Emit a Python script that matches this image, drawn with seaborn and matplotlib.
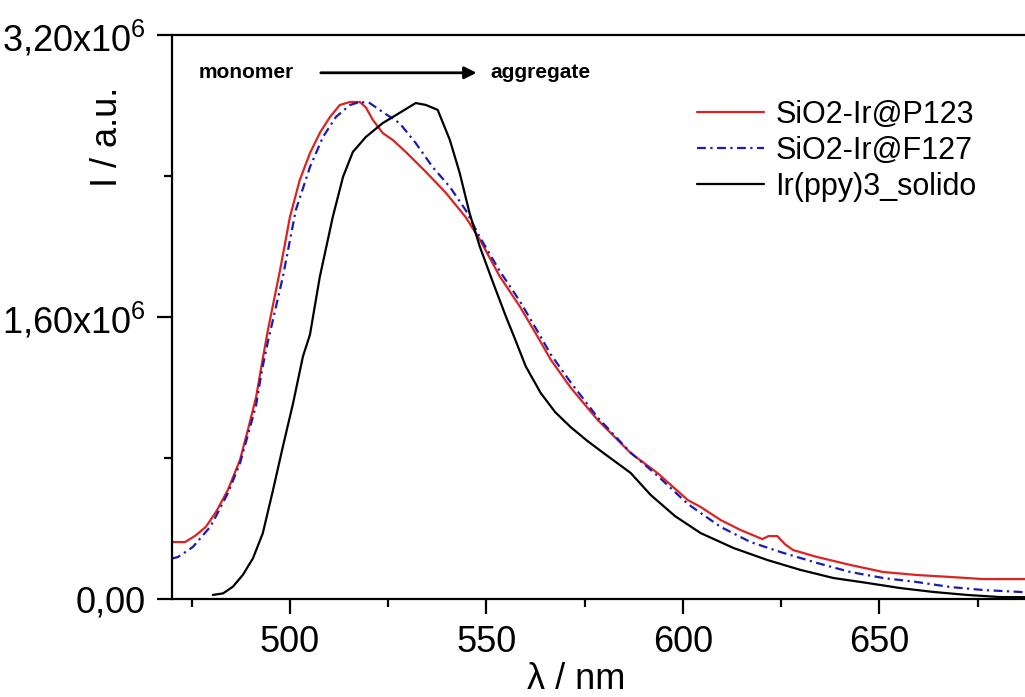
import matplotlib
matplotlib.use('Agg')
from matplotlib import pyplot as plt
from matplotlib.lines import Line2D
from matplotlib.ticker import FixedLocator, FuncFormatter
import seaborn as sns

# emission spectra, wavelength in nm, intensity in units of 1e6 a.u.
WL_P123 = [470, 473.3, 476, 478.6, 481.2, 484.2, 487.3, 489.3, 491.4, 492.9, 494.4, 497.5,
           500, 502.5, 505.1, 507.6, 510.2, 512.7, 515.3, 517.8, 519.3, 521.1, 523.6, 526.2,
           529.5, 534.6, 539.7, 544.7, 548.3, 553.4, 558.5, 563.5, 566.3, 571.4, 578.3, 586.7,
           593.5, 601.2, 604.5, 609.6, 614.6, 620.2, 621.8, 624, 626, 628, 634.2, 642.6, 651,
           659.6, 668, 676.4, 690]
I_P123 = [0.323, 0.323, 0.36, 0.409, 0.494, 0.618, 0.789, 0.959, 1.146, 1.339, 1.526, 1.867,
          2.167, 2.377, 2.53, 2.644, 2.735, 2.803, 2.82, 2.82, 2.79, 2.718, 2.644, 2.604,
          2.536, 2.423, 2.304, 2.167, 2.04, 1.83, 1.66, 1.47, 1.36, 1.20, 1.016, 0.828,
          0.715, 0.562, 0.522, 0.448, 0.392, 0.34, 0.357, 0.357, 0.31, 0.278, 0.238, 0.193, 0.153,
          0.136, 0.125, 0.113, 0.113]

WL_F127 = [470, 471.5, 475.3, 479.7, 481.2, 484.2, 487.3, 489.3, 491.4, 492.9, 494.4, 498.2,
           501.5, 505.1, 508.4, 511.7, 515.3, 517.8, 520.3, 523.6, 527.9, 532, 536.3, 540.7,
           544.7, 548.3, 553.4, 558.5, 563.5, 566.3, 571.4, 578.3, 586.7, 593.5, 601.2, 604.5,
           609.6, 617.2, 625.6, 634.2, 642.6, 651, 659.6, 668, 676.4, 690]
I_F127 = [0.23, 0.238, 0.295, 0.409, 0.47, 0.60, 0.77, 0.93, 1.10, 1.30, 1.46, 1.827,
          2.207, 2.451, 2.621, 2.735, 2.803, 2.82, 2.814, 2.763, 2.70, 2.587, 2.451, 2.338,
          2.207, 2.054, 1.86, 1.69, 1.50, 1.39, 1.23, 1.03, 0.83, 0.70, 0.54, 0.488,
          0.409, 0.323, 0.261, 0.204, 0.153, 0.119, 0.096, 0.068, 0.051, 0.035]

WL_SOLID = [480.4, 483, 485.5, 488, 490.6, 493.1, 495.7, 498.2, 500.8, 503.3, 505.1, 507.6,
            510.9, 513.5, 516, 519.3, 523.6, 527.9, 532, 534.6, 537.6, 540.7, 543.2, 545.7,
            548.3, 551.6, 555, 557, 560, 563.8, 567.5, 571.4, 575.5, 579.8, 586.7, 591.8, 598,
            604.5, 612.9, 621.5, 629.9, 638.3, 646.9, 655.3, 663.7, 672.3, 680.7, 690]
I_SOLID = [0.023, 0.032, 0.070, 0.136, 0.231, 0.373, 0.618, 0.864, 1.11, 1.375, 1.50, 1.827,
           2.167, 2.394, 2.536, 2.621, 2.70, 2.758, 2.814, 2.803, 2.775, 2.604, 2.417, 2.19,
           2.0, 1.80, 1.60, 1.49, 1.32, 1.169, 1.06, 0.976, 0.90, 0.828, 0.715, 0.590, 0.47,
           0.374, 0.289, 0.221, 0.165, 0.119, 0.091, 0.062, 0.040, 0.023, 0.011, 0.010]

LABELS = ['SiO2-Ir@P123', 'SiO2-Ir@F127', 'Ir(ppy)3_solido']
COLORS = ['#dd2222', '#1a1ab4', '#000000']
STYLES = ['-', (0, (4, 2, 1, 2)), '-']
X_TICKS = [500, 550, 600, 650]
Y_TICKS = [0, 1.6, 3.2]


def fmt_y(v, pos):
    if v == 0:
        return '0,00'
    return ('%.2f' % v).replace('.', ',') + r'x10$^{6}$'


sns.set_style('ticks')
plt.rcParams['font.family'] = ['Liberation Sans', 'DejaVu Sans']
plt.rcParams['mathtext.fontset'] = 'custom'
plt.rcParams['mathtext.rm'] = 'Liberation Sans'
plt.rcParams['mathtext.it'] = 'Liberation Sans:italic'
for key in ['text.color', 'axes.labelcolor', 'xtick.color', 'ytick.color', 'axes.edgecolor']:
    plt.rcParams[key] = 'black'

fig = plt.figure(figsize=(10.25, 6.97), dpi=100)
ax = fig.add_axes([172 / 1025, 98 / 697, 904 / 1025, 564 / 697])

series = [(WL_P123, I_P123), (WL_F127, I_F127), (WL_SOLID, I_SOLID)]
handles = []
for (wl, inten), lab, col, ls in zip(series, LABELS, COLORS, STYLES):
    sns.lineplot(x=wl, y=inten, ax=ax, color=col, linestyle=ls, lw=1.6, legend=False)
    handles.append(Line2D([], [], color=col, linestyle=ls, lw=1.6))

ax.set_xlim(470, 700)
ax.set_ylim(0, 3.2)
ax.xaxis.set_major_locator(FixedLocator(X_TICKS))
ax.xaxis.set_minor_locator(FixedLocator([475, 525, 575, 625, 675]))
ax.yaxis.set_major_locator(FixedLocator(Y_TICKS))
ax.yaxis.set_minor_locator(FixedLocator([0.8, 2.4]))
ax.yaxis.set_major_formatter(FuncFormatter(fmt_y))

for s in ax.spines.values():
    s.set_linewidth(1.6)
ax.tick_params(which='major', direction='out', length=11, width=1.6, labelsize=26, pad=8)
ax.tick_params(which='minor', direction='out', length=6, width=1.6)

ax.set_xlabel('λ / nm', fontsize=26)
ax.xaxis.set_label_coords(0.447, -0.112)
ax.set_ylabel('I / a.u.', fontsize=26)
ax.yaxis.set_label_coords(-0.052, 0.82)

ax.legend(handles, LABELS, loc='upper left', bbox_to_anchor=(0.581, 0.885), frameon=False,
          fontsize=22, handlelength=2.2, handletextpad=0.35, labelspacing=0.2,
          borderpad=0, borderaxespad=0)

ax.text(0.03, 0.933, 'monomer', transform=ax.transAxes, fontsize=15, fontweight='bold',
        va='center', ha='left')
ax.annotate('', xy=(0.34, 0.933), xytext=(0.1615, 0.933), xycoords='axes fraction',
            arrowprops=dict(arrowstyle='-|>', lw=2, color='black', mutation_scale=18))
ax.text(0.352, 0.933, 'aggregate', transform=ax.transAxes, fontsize=15, fontweight='bold',
        va='center', ha='left')

fig.savefig('out.png', dpi=100)
